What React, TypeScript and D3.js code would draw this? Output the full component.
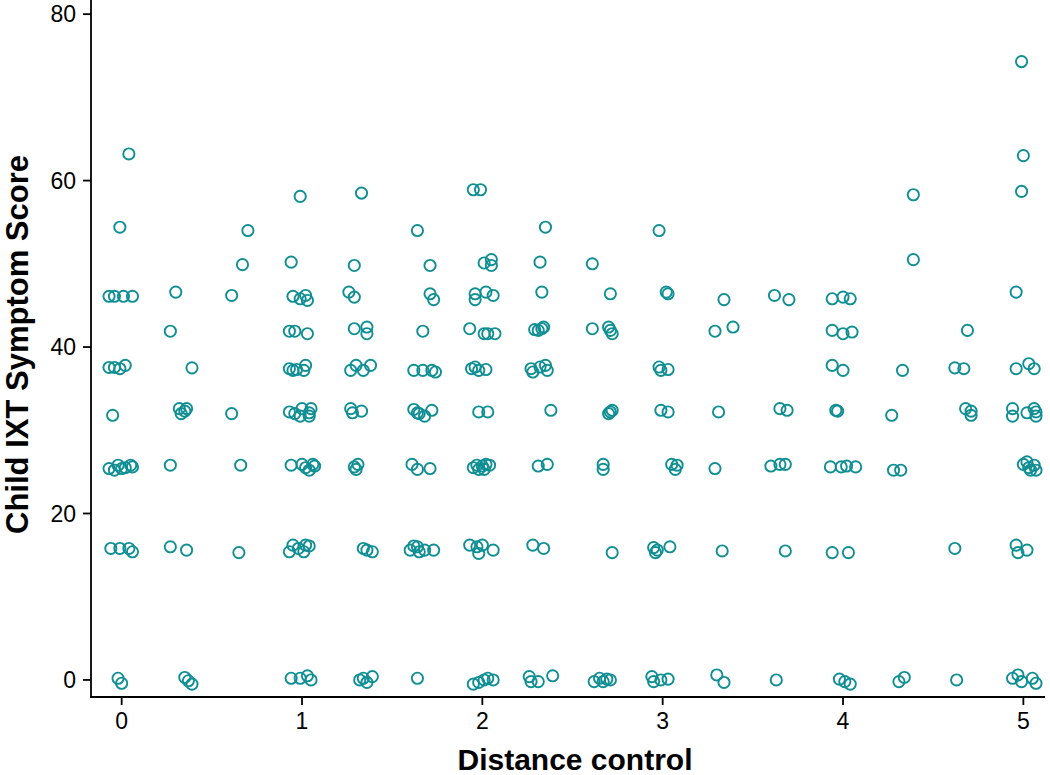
import React from "react";
import * as d3 from "d3";

// Jittered points, grouped by score level: [distance control (jittered), symptom score (jittered)]
const level0: [number, number][] = [
  [-0.02, 0.2], [0, -0.4], [0.35, 0.3], [0.37, -0.1], [0.39, -0.5], [0.94, 0.2], [0.99, 0.2], [1.03, 0.5], [1.05, 0],
  [1.32, 0], [1.34, 0.2], [1.36, -0.3], [1.39, 0.4], [1.64, 0.2], [1.95, -0.5], [1.98, -0.3], [2.01, 0], [2.03, 0.2],
  [2.06, 0], [2.26, 0.4], [2.27, -0.2], [2.31, -0.2], [2.39, 0.5], [2.62, -0.2], [2.65, 0.2], [2.67, -0.2], [2.69, 0.1],
  [2.71, 0], [2.94, 0.4], [2.95, -0.2], [2.99, 0], [3.03, 0.1], [3.3, 0.6], [3.34, -0.3], [3.63, 0], [3.98, 0.1],
  [4.01, -0.2], [4.04, -0.5], [4.31, -0.2], [4.34, 0.3], [4.63, 0], [4.94, 0.2], [4.97, 0.6], [4.99, -0.2], [5.05, 0.2],
  [5.07, -0.4],
];

const level16: [number, number][] = [
  [-0.06, 15.8], [-0.01, 15.8], [0.04, 15.8], [0.06, 15.4], [0.27, 16.0], [0.36, 15.6], [0.65, 15.3], [0.93, 15.4],
  [0.95, 16.2], [0.98, 15.8], [1.01, 15.4], [1.02, 16.2], [1.04, 16.1], [1.34, 15.8], [1.36, 15.6], [1.39, 15.4],
  [1.6, 15.6], [1.62, 16.1], [1.64, 16.0], [1.65, 15.4], [1.68, 15.6], [1.73, 15.6], [1.93, 16.2], [1.97, 16.0],
  [1.98, 15.2], [2.0, 16.2], [2.06, 15.6], [2.28, 16.2], [2.34, 15.8], [2.72, 15.3], [2.95, 15.9], [2.96, 15.3],
  [2.97, 15.6], [3.04, 16.0], [3.33, 15.5], [3.68, 15.5], [3.94, 15.3], [4.03, 15.3], [4.62, 15.8], [4.96, 16.2],
  [4.97, 15.3], [5.02, 15.6],
];

const level26: [number, number][] = [
  [-0.07, 25.4], [-0.04, 25.2], [-0.02, 25.8], [0, 25.4], [0.02, 25.5], [0.05, 25.8], [0.06, 25.6], [0.27, 25.8],
  [0.66, 25.8], [0.94, 25.8], [1.0, 25.9], [1.02, 25.5], [1.04, 25.2], [1.06, 25.9], [1.07, 25.7], [1.29, 25.6],
  [1.31, 25.9], [1.3, 25.3], [1.61, 25.9], [1.64, 25.3], [1.71, 25.4], [1.95, 25.5], [1.97, 25.8], [2.0, 25.7],
  [2.02, 25.9], [2.04, 25.8], [1.98, 25.3], [2.01, 25.3], [2.31, 25.7], [2.36, 25.9], [2.67, 25.9], [2.67, 25.3],
  [3.05, 25.9], [3.08, 25.8], [3.07, 25.3], [3.29, 25.4], [3.6, 25.7], [3.65, 25.9], [3.68, 25.9], [3.93, 25.6],
  [3.99, 25.6], [4.02, 25.7], [4.07, 25.6], [4.28, 25.2], [4.32, 25.2], [5.0, 25.9], [5.03, 25.5], [5.06, 25.8],
  [5.02, 26.2], [5.07, 25.2], [5.04, 25.2],
];

const level32: [number, number][] = [
  [-0.05, 31.8], [0.32, 32.6], [0.36, 32.6], [0.33, 32.0], [0.35, 32.3], [0.61, 32.0], [0.93, 32.2], [0.96, 32.0],
  [0.99, 31.7], [1.0, 32.6], [1.04, 31.7], [1.05, 32.6], [1.04, 32.1], [1.27, 32.6], [1.28, 32.1], [1.33, 32.3],
  [1.62, 32.5], [1.64, 32.1], [1.65, 32.0], [1.68, 31.7], [1.72, 32.4], [1.98, 32.2], [2.03, 32.2], [2.38, 32.4],
  [2.7, 32.0], [2.71, 32.2], [2.72, 32.4], [2.99, 32.4], [3.03, 32.2], [3.31, 32.2], [3.65, 32.6], [3.69, 32.4],
  [3.96, 32.4], [3.97, 32.3], [4.27, 31.8], [4.68, 32.6], [4.71, 32.3], [4.71, 31.8], [4.94, 32.6], [4.94, 31.7],
  [5.02, 32.1], [5.06, 32.6], [5.07, 31.7], [5.07, 32.2],
];

const level37: [number, number][] = [
  [-0.07, 37.55], [-0.04, 37.55], [-0.01, 37.4], [0.02, 37.8], [0.39, 37.5], [0.93, 37.4], [0.95, 37.2], [0.97, 37.3],
  [1.01, 37.2], [1.02, 37.8], [1.27, 37.2], [1.3, 37.8], [1.34, 37.2], [1.38, 37.8], [1.62, 37.2], [1.67, 37.2],
  [1.72, 37.2], [1.74, 37.0], [1.94, 37.4], [1.96, 37.6], [1.98, 37.2], [2.02, 37.3], [2.27, 37.4], [2.28, 37.0],
  [2.32, 37.6], [2.35, 37.8], [2.36, 37.2], [2.98, 37.6], [2.99, 37.2], [3.03, 37.3], [3.94, 37.8], [4.0, 37.2],
  [4.33, 37.2], [4.62, 37.5], [4.67, 37.4], [4.96, 37.4], [5.03, 38.0], [5.06, 37.4],
];

const level42: [number, number][] = [
  [0.27, 41.9], [0.93, 41.9], [0.96, 41.9], [1.03, 41.6], [1.29, 42.2], [1.36, 42.4], [1.36, 41.6], [1.67, 41.9],
  [1.93, 42.2], [2.01, 41.6], [2.03, 41.6], [2.07, 41.6], [2.29, 42.1], [2.31, 42.0], [2.33, 42.2], [2.34, 42.4],
  [2.61, 42.2], [2.7, 42.4], [2.71, 42.0], [2.72, 41.6], [3.29, 41.9], [3.39, 42.4], [3.94, 42.0], [4.0, 41.6],
  [4.05, 41.8], [4.69, 42.0],
];

const level46: [number, number][] = [
  [-0.07, 46.1], [-0.04, 46.1], [0.01, 46.1], [0.06, 46.1], [0.3, 46.6], [0.61, 46.2], [0.95, 46.1], [0.99, 45.8],
  [1.02, 46.2], [1.03, 45.6], [1.26, 46.6], [1.29, 46.0], [1.71, 46.4], [1.73, 45.7], [1.96, 46.4], [1.96, 45.7],
  [2.02, 46.6], [2.06, 46.2], [2.33, 46.6], [2.71, 46.4], [3.02, 46.6], [3.03, 46.4], [3.34, 45.7], [3.62, 46.2],
  [3.7, 45.7], [3.94, 45.8], [4.0, 46.0], [4.04, 45.8], [4.96, 46.6],
];

const levelHigh: [number, number][] = [
  [0.67, 49.9], [0.94, 50.2], [1.29, 49.8], [1.71, 49.8], [2.01, 50.1], [2.05, 50.5], [2.05, 49.8], [2.32, 50.2],
  [2.61, 50.0], [4.39, 50.5], [-0.01, 54.4], [0.7, 54.0], [1.64, 54.0], [2.35, 54.4], [2.98, 54.0], [0.99, 58.1],
  [1.33, 58.5], [1.95, 58.9], [1.99, 58.9], [4.39, 58.3], [4.99, 58.7], [0.04, 63.2], [5.0, 63.0], [4.99, 74.3],
];

const xTicks = [0, 1, 2, 3, 4, 5];
const yTicks = [0, 20, 40, 60, 80];
const xTitle = "Distance control";
const yTitle = "Child IXT Symptom Score";

const W = 1050;
const H = 775;
const FONT = "'Liberation Sans', Arial, Helvetica, sans-serif";
const COLOR = "#0f8f94";

export default function App() {
  const x = d3.scaleLinear().domain([-0.17, 5.12]).range([91, 1045]);
  const y = d3.scaleLinear().domain([-2.05, 81.7]).range([697, 0]);
  const all = [
    ...level0, ...level16, ...level26, ...level32, ...level37, ...level42, ...level46, ...levelHigh,
  ];
  const [x0, x1] = x.range();
  const [yb, yt] = y.range();
  return (
    <svg
      width={W}
      height={H}
      style={{ position: "absolute", left: 0, top: 0, background: "#fff" }}
      fontFamily={FONT}
    >
      <rect x={0} y={0} width={W} height={H} fill="#fff" />
      {/* axes */}
      <line x1={x0} x2={x0} y1={yt} y2={yb + 0.9} stroke="#000" strokeWidth={1.8} />
      <line x1={x0 - 0.9} x2={x1} y1={yb} y2={yb} stroke="#000" strokeWidth={1.8} />
      {yTicks.map((t) => (
        <g key={"y" + t}>
          <line x1={x0 - 8} x2={x0} y1={y(t)} y2={y(t)} stroke="#000" strokeWidth={1.8} />
          <text x={x0 - 15} y={y(t)} dy="0.36em" textAnchor="end" fontSize={23} fill="#000">
            {t}
          </text>
        </g>
      ))}
      {xTicks.map((t) => (
        <g key={"x" + t}>
          <line x1={x(t)} x2={x(t)} y1={yb} y2={yb + 8} stroke="#000" strokeWidth={1.8} />
          <text x={x(t)} y={729} textAnchor="middle" fontSize={23} fill="#000">
            {t}
          </text>
        </g>
      ))}
      {/* titles */}
      <text x={(x0 + x1) / 2 + 7} y={770} textAnchor="middle" fontSize={30} fontWeight="bold" fill="#000">
        {xTitle}
      </text>
      <text
        transform={`translate(28, ${(yt + yb) / 2 - 4}) rotate(-90)`}
        textAnchor="middle"
        fontSize={31}
        fontWeight="bold"
        fill="#000"
      >
        {yTitle}
      </text>
      {/* points */}
      {all.map((p, i) => (
        <circle
          key={i}
          cx={x(p[0])}
          cy={y(p[1])}
          r={5.6}
          fill="none"
          stroke={COLOR}
          strokeWidth={1.9}
        />
      ))}
    </svg>
  );
}
